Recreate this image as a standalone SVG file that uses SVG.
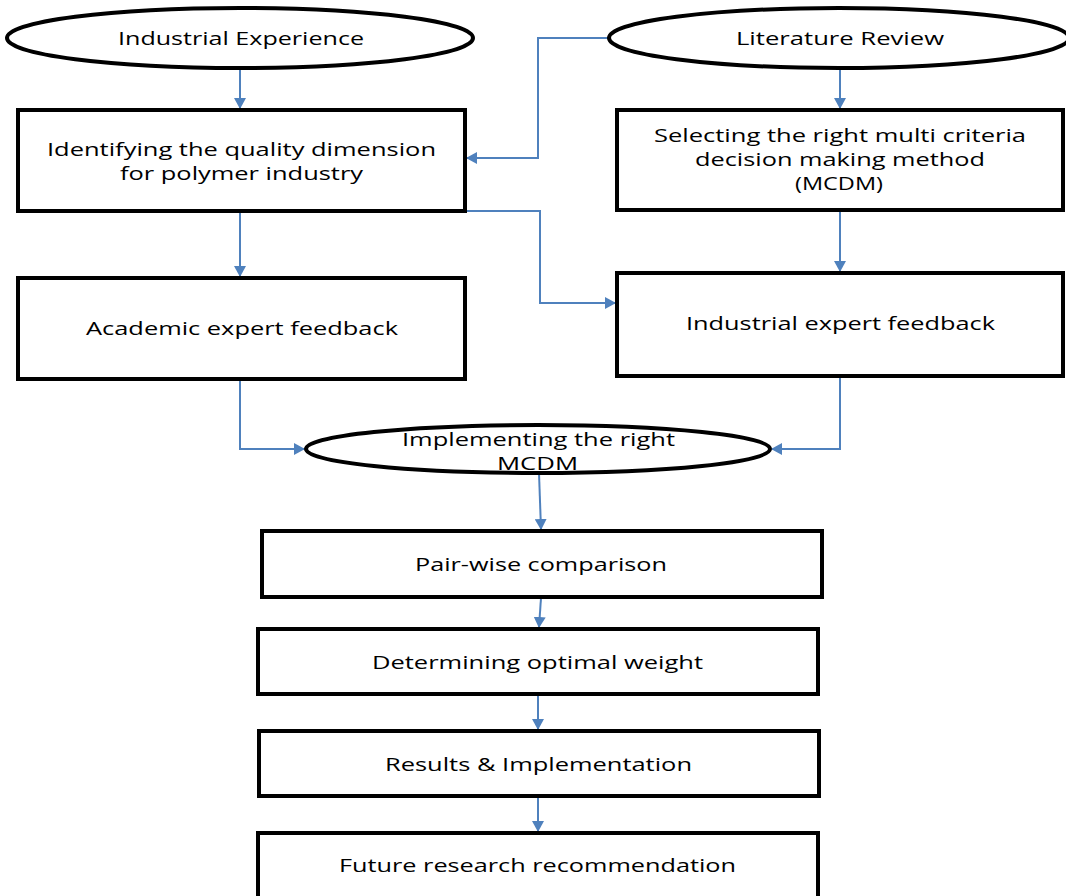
<svg xmlns="http://www.w3.org/2000/svg" width="1066" height="896" viewBox="0 0 1066 896">
<style>
.box{fill:#fff;stroke:#000;stroke-width:4}
.ell{fill:#fff;stroke:#000;stroke-width:4}
.t{font-family:"Open Sans","DejaVu Sans",sans-serif;font-size:19px;fill:#000;text-anchor:middle}
.c{fill:none;stroke:#4f81bd;stroke-width:2;marker-end:url(#ah)}
</style>
<defs>
<marker id="ah" markerWidth="12" markerHeight="12" refX="10" refY="6" orient="auto" markerUnits="userSpaceOnUse">
<path d="M0,0 L11,6 L0,12 z" fill="#4f81bd"/>
</marker>
</defs>
<rect width="1066" height="896" fill="#fff"/>
<g id="connectors">
<path class="c" d="M240,69 V108"/>
<path class="c" d="M609,38 H538 V158 H467"/>
<path class="c" d="M840,69 V108"/>
<path class="c" d="M240,212 V276"/>
<path class="c" d="M466,211 H540 V303 H615"/>
<path class="c" d="M840,211 V271"/>
<path class="c" d="M240,380 V449 H304"/>
<path class="c" d="M840,377 V449 H772"/>
<path class="c" d="M539,473 L541,529"/>
<path class="c" d="M541,598 L539,627"/>
<path class="c" d="M538,695 L538,729"/>
<path class="c" d="M538,797 L538,831"/>
</g>
<g id="n1">
<ellipse class="ell" cx="240" cy="38" rx="233" ry="30"/>
<text class="t" x="241" y="45" textLength="246" lengthAdjust="spacingAndGlyphs">Industrial Experience</text>
</g>
<g id="n2">
<ellipse class="ell" cx="839" cy="38" rx="230" ry="30"/>
<text class="t" x="840" y="45" textLength="208" lengthAdjust="spacingAndGlyphs">Literature Review</text>
</g>
<g id="n3">
<rect class="box" x="18" y="110" width="447" height="101"/>
<text class="t" x="241.5" y="156" textLength="389" lengthAdjust="spacingAndGlyphs">Identifying the quality dimension</text>
<text class="t" x="241.5" y="180" textLength="243" lengthAdjust="spacingAndGlyphs">for polymer industry</text>
</g>
<g id="n4">
<rect class="box" x="617" y="110" width="446" height="100"/>
<text class="t" x="840" y="142" textLength="372" lengthAdjust="spacingAndGlyphs">Selecting the right multi criteria</text>
<text class="t" x="840" y="166" textLength="290" lengthAdjust="spacingAndGlyphs">decision making method</text>
<text class="t" x="839" y="190" textLength="88" lengthAdjust="spacingAndGlyphs">(MCDM)</text>
</g>
<g id="n5">
<rect class="box" x="18" y="278" width="447" height="101"/>
<text class="t" x="242" y="335" textLength="312" lengthAdjust="spacingAndGlyphs">Academic expert feedback</text>
</g>
<g id="n6">
<rect class="box" x="617" y="273" width="446" height="103"/>
<text class="t" x="840.5" y="330" textLength="309" lengthAdjust="spacingAndGlyphs">Industrial expert feedback</text>
</g>
<g id="n7">
<ellipse class="ell" cx="538" cy="449" rx="232" ry="24"/>
<text class="t" x="538.5" y="446" textLength="273" lengthAdjust="spacingAndGlyphs">Implementing the right</text>
<text class="t" x="537.5" y="470" textLength="81" lengthAdjust="spacingAndGlyphs">MCDM</text>
</g>
<g id="n8">
<rect class="box" x="262" y="531" width="560" height="66"/>
<text class="t" x="541" y="571" textLength="252" lengthAdjust="spacingAndGlyphs">Pair-wise comparison</text>
</g>
<g id="n9">
<rect class="box" x="258" y="629" width="560" height="65"/>
<text class="t" x="537.5" y="669" textLength="331" lengthAdjust="spacingAndGlyphs">Determining optimal weight</text>
</g>
<g id="n10">
<rect class="box" x="259" y="731" width="560" height="65"/>
<text class="t" x="538.5" y="771" textLength="307" lengthAdjust="spacingAndGlyphs">Results &amp; Implementation</text>
</g>
<g id="n11">
<rect class="box" x="258" y="833" width="560" height="70"/>
<text class="t" x="537.5" y="872" textLength="397" lengthAdjust="spacingAndGlyphs">Future research recommendation</text>
</g>
</svg>
